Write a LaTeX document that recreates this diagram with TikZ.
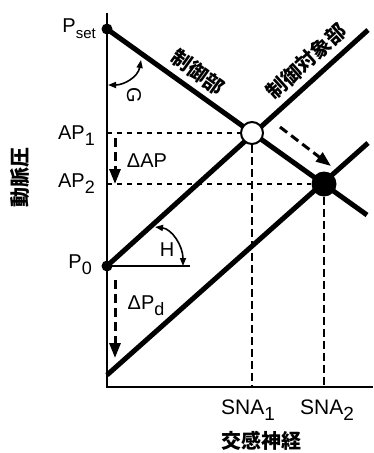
\documentclass[tikz,border=0pt]{standalone}
\usepackage{fontspec}
\setmainfont{Liberation Sans}
\newfontfamily\jp{Noto Sans CJK JP}
\usetikzlibrary{arrows.meta}
\newcommand\lowsub[2][18]{\raisebox{-6pt}{\fontsize{#1}{#1}\selectfont #2}}
\tikzset{
  axis/.style={line width=2pt},
  mainline/.style={line width=5pt},
  thindash/.style={line width=2pt, dash pattern=on 5pt off 5pt},
  vdash/.style={line width=2.5pt, dash pattern=on 8pt off 4pt},
  arrdash/.style={line width=3pt, dash pattern=on 9pt off 5pt, -{Triangle[length=15pt,width=11pt]}},
  dot/.style={circle, fill=black, inner sep=0pt, minimum size=11pt},
  opencirc/.style={circle, draw=black, fill=white, line width=2pt, inner sep=0pt, minimum size=22pt},
  fillcirc/.style={circle, fill=black, inner sep=0pt, minimum size=25pt},
  lbl/.style={font=\fontsize{20}{24}\selectfont, inner sep=1pt},
  jlbl/.style={font=\jp\bfseries\fontsize{20}{24}\selectfont, inner sep=0pt},
  anglearrow/.style={line width=1.6pt, {Triangle[length=8pt,width=6pt]}-{Triangle[length=8pt,width=6pt]}}
}
\begin{document}
\begin{tikzpicture}[x=1pt,y=-1pt]
\useasboundingbox (0,0) rectangle (373,453);
% axes
\coordinate (O) at (107,387);
\coordinate (ytop) at (107,13);
\coordinate (xend) at (373,387);
\draw[axis] (ytop) -- (O) -- (xend);
% key points
\coordinate (Pset) at (107,29);
\coordinate (P0) at (107,266);
\coordinate (Cend) at (367,215);
\coordinate (Pend) at (368,30);
\coordinate (Sstart) at (107,375);
\coordinate (Send) at (368,143);
\coordinate (X1c) at (252,133);
\coordinate (X2c) at (324,184);
% H reference line
\coordinate (Href) at (190,266);
\draw[line width=1.5pt] (P0) -- (Href);
% main lines
\draw[mainline] (Pset) -- (Cend) node[pos=0.31, sloped, above=6pt, jlbl] (lctrl) {制御部};
\draw[mainline] (P0) -- (Pend) node[pos=0.81, sloped, above=6pt, jlbl] (lplant) {制御対象部};
\draw[mainline] (Sstart) -- (Send);
% circles
\node[opencirc] (X1) at (X1c) {};
\node[fillcirc] (X2) at (X2c) {};
\node[dot] (Dset) at (Pset) {};
\node[dot] (D0) at (P0) {};
% dashed guides
\draw[thindash] (X1 -| O) -- (X1.west);
\draw[thindash] (X2 -| O) -- (X2.west);
\draw[vdash] (X1.south) -- (X1 |- O);
\draw[vdash] (X2.south) -- (X2 |- O);
% shift arrows
\coordinate (a1s) at (115,138);
\coordinate (a1e) at (115,184);
\draw[arrdash] (a1s) -- (a1e);
\coordinate (a2s) at (115,280);
\coordinate (a2e) at (115,358);
\draw[arrdash] (a2s) -- (a2e);
\coordinate (a3s) at (280,127);
\coordinate (a3e) at (331,166);
\draw[arrdash] (a3s) -- (a3e);
% angle arrows
\coordinate (g1) at (108,85);
\coordinate (g2) at (141,60);
\draw[anglearrow] (g1) .. controls (124,85) and (138,77) .. (g2);
\coordinate (h1) at (155,227);
\coordinate (h2) at (183,266);
\draw[anglearrow] (h1) .. controls (172,229) and (183,246) .. (h2);
% labels
\node[lbl, rotate=-90] (G) at (134,95) {G};
\node[lbl] (H) at (167,250) {H};
\node[lbl, anchor=base east] (lPset) at (97,32) {P\lowsub[15]{set}};
\node[lbl, anchor=base east] (lAP1) at (96,139) {AP\lowsub{1}};
\node[lbl, anchor=base east] (lAP2) at (96,187) {AP\lowsub{2}};
\node[lbl, anchor=base east] (lP0) at (93,268) {P\lowsub{0}};
\node[lbl, anchor=base] (ldAP) at (147,167) {ΔAP};
\node[lbl, anchor=base] (ldPd) at (146,309) {ΔP\lowsub[18]{d}};
\node[lbl, anchor=base, font=\fontsize{21}{24}\selectfont] (lSNA1) at (248,414) {SNA\lowsub[19]{1}};
\node[lbl, anchor=base, font=\fontsize{21}{24}\selectfont] (lSNA2) at (327,414) {SNA\lowsub[19]{2}};
\node[jlbl] (lx) at (261,441) {交感神経};
\node[jlbl, rotate=90] (ly) at (20,177) {動脈圧};
\end{tikzpicture}
\end{document}
